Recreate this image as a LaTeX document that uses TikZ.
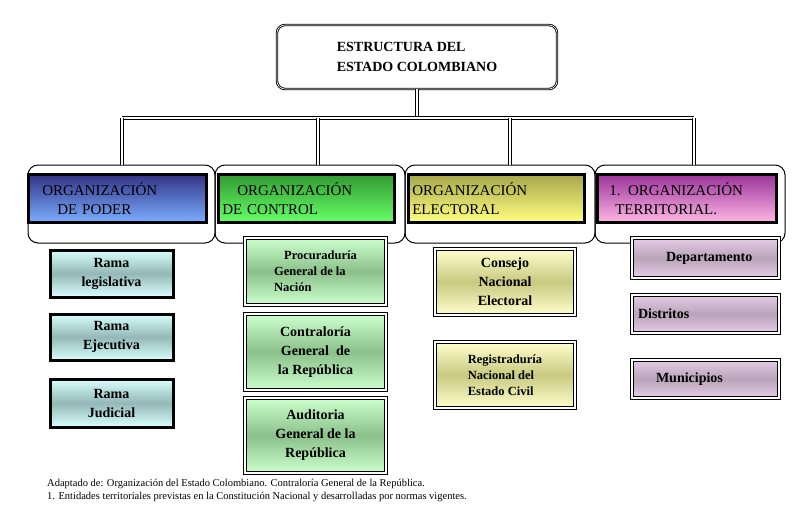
\documentclass[tikz,border=0pt]{standalone}
\usepackage{fontspec}
\setmainfont{Liberation Serif}
\usepackage{tikz}
\usetikzlibrary{positioning, calc}

\tikzset{
  head/.style={rounded corners=10pt, draw, line width=1, minimum width=#1, minimum height=78},
  hfill/.style={draw, line width=2.5, minimum height=48, font=\fontsize{15}{19}\selectfont, align=left, inner sep=4pt},
  sub/.style={draw, line width=3, font=\fontsize{14}{19}\selectfont\bfseries, align=center, inner sep=3pt},
  link/.style={double, double distance=2pt, line width=0.9}
}

\begin{document}
\begin{tikzpicture}[x=1pt, y=-1pt]
  \useasboundingbox (0,0) rectangle (808,527);

  % Title
  \node[draw, double, line width=0.9, rounded corners=8pt, minimum width=280, minimum height=64,
        font=\fontsize{14}{20}\selectfont\bfseries, align=left] (title) at (417,57) {ESTRUCTURA DEL\\ESTADO COLOMBIANO};

  % Frames of the four organizations
  \node[head=187] (h1) at (121.5,204) {};
  \node[head=190] (h2) at (310,204) {};
  \node[head=190] (h3) at (500,204) {};
  \node[head=190] (h4) at (690,204) {};

  \node[hfill, top color=blue!40!black!80, bottom color=blue!40!white!80!cyan, minimum width=178, anchor=north west,
        text width=170] (poder) at (27,173) {\hspace*{10pt}ORGANIZACIÓN\\\hspace*{25pt}DE PODER};
  \node[hfill, top color=green!50!black!80, bottom color=green!60!white, minimum width=176, anchor=north west,
        text width=168] (control) at (217,173) {\hspace*{15pt}ORGANIZACIÓN\\DE CONTROL};
  \node[hfill, top color=yellow!50!black!70, bottom color=yellow!50, minimum width=176, anchor=north west,
        text width=168] (electoral) at (407,173) {ORGANIZACIÓN\\ELECTORAL};
  \node[hfill, top color=magenta!50!black!80, bottom color=pink!70!magenta!60, minimum width=179, anchor=north west,
        text width=171] (territorial) at (596,173) {\hspace*{8pt}1. ORGANIZACIÓN\\\hspace*{14pt}TERRITORIAL.};

  % Connectors
  \coordinate (bus) at (title.south |- 0,118);
  \draw[link] (title.south) -- (bus);
  \draw[link] (122,118) -- (694,118);
  \foreach \h/\x in {h1/122, h2/318, h3/510, h4/694}
    \draw[link] (\x,118) -- (\x,165);

  % Organizacion de poder
  \tikzset{c1/.style={sub, top color=cyan!15, bottom color=cyan!15, middle color=cyan!20!gray!70, minimum width=123}}
  \node[c1, minimum height=47] (legis) at (111.5,273.5) {Rama\\legislativa};
  \node[c1, minimum height=46] (ejec) at (111.5,337) {Rama\\Ejecutiva};
  \node[c1, minimum height=48] (judic) at (111.5,403) {Rama\\Judicial};

  % Organizacion de control
  \tikzset{c2/.style={sub, top color=green!20, bottom color=green!20, middle color=green!30!gray!70, minimum width=141, double, double distance=1.2pt, line width=1.4}}
  \node[c2, minimum height=67, align=left, font=\fontsize{12.5}{16}\selectfont\bfseries] (procu) at (315.5,271.5) {\hspace*{10pt}Procuraduría\\General de la\\Nación};
  \node[c2, minimum height=76] (contra) at (315.5,352) {Contraloría\\General\ \ de\\la República};
  \node[c2, minimum height=75] (audit) at (315.5,435.5) {Auditoria\\General de la\\República};

  % Organizacion electoral
  \tikzset{c3/.style={sub, top color=yellow!20, bottom color=yellow!20, middle color=yellow!40!gray!70, minimum width=140, double, double distance=1.2pt, line width=1.4}}
  \node[c3, minimum height=66] (consejo) at (505,282) {Consejo\\Nacional\\Electoral};
  \node[c3, minimum height=66, align=left, font=\fontsize{12.5}{16}\selectfont\bfseries] (regis) at (505,375) {Registraduría\\Nacional del\\Estado Civil};

  % Organizacion territorial
  \tikzset{c4/.style={sub, top color=violet!20, bottom color=violet!20, middle color=violet!30!gray!55, minimum width=147, double, double distance=1.2pt, line width=1.4}}
  \node[c4, minimum height=40, align=left, text width=135] (depto) at (705.5,258) {\hspace*{28pt}Departamento};
  \node[c4, minimum height=38, align=left, text width=135] (distr) at (705.5,314) {Distritos};
  \node[c4, minimum height=38, align=left, text width=135] (munic) at (705.5,379) {\hspace*{18pt}Municipios};

  % Notes
  \node[anchor=west, font=\fontsize{10.5}{12}\selectfont, inner sep=0] (nota1) at (47,484) {Adaptado de: Organización del Estado Colombiano. Contraloría General de la República.};
  \node[anchor=west, font=\fontsize{10.5}{12}\selectfont, inner sep=0] (nota2) at (47,497) {1. Entidades territoriales previstas en la Constitución Nacional y desarrolladas por normas vigentes.};
\end{tikzpicture}
\end{document}
